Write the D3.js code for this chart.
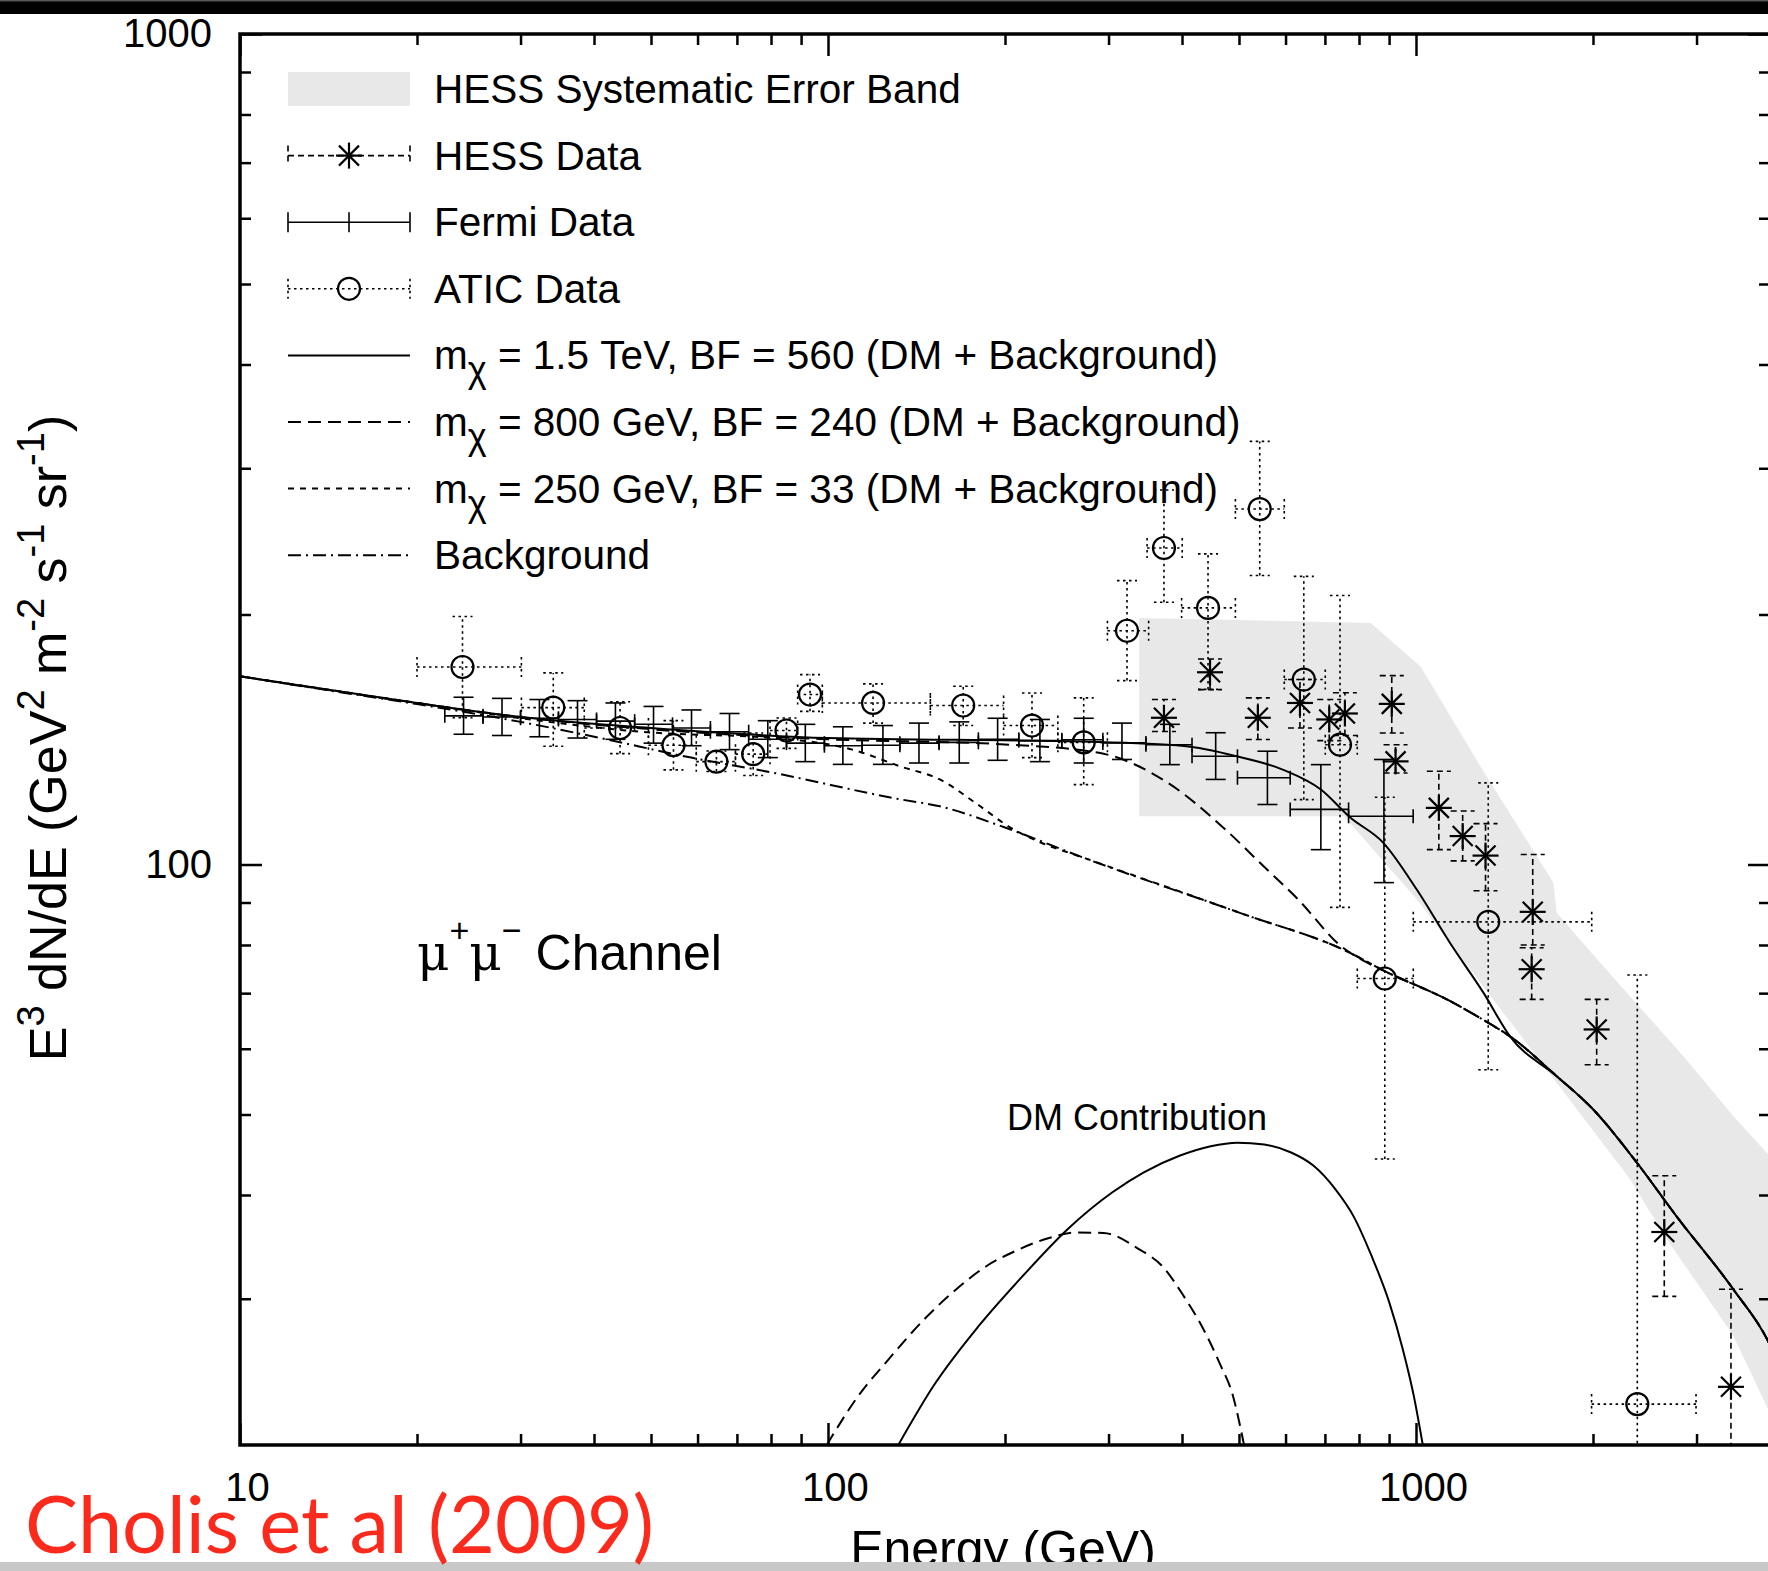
<!DOCTYPE html>
<html>
<head>
<meta charset="utf-8">
<script src="https://cdn.jsdelivr.net/npm/d3@7/dist/d3.min.js"></script>
<style>
  html, body { margin: 0; padding: 0; background: #fff; }
  svg { display: block; }
  text { font-family: "Liberation Sans", Arial, Helvetica, sans-serif; fill: #000; }
</style>
</head>
<body>
<svg id="chart" width="1768" height="1571"></svg>
<script>
// ---------- axis ticks ----------
const xMajorTicks = [10, 100, 1000];
const xMinorTicks = [20, 30, 40, 50, 60, 70, 80, 90, 200, 300, 400, 500, 600, 700, 800, 900, 2000, 3000];
const yMajorTicks = [100, 1000];
const yMinorTicks = [30, 40, 50, 60, 70, 80, 90, 200, 300, 400, 500, 600, 700, 800, 900];

// ---------- Fermi-LAT (energy, E^3 dN/dE, errors, bin edges) ----------
const fermiE  = [24.0, 27.9, 32.3, 37.5, 43.5, 50.5, 58.6, 68.0, 79.0, 91.5, 106, 124, 142.8, 167.2, 194.3, 229.3, 272.2, 316.2, 381.4, 456.4, 558.9, 689, 882];
const fermiY  = [151, 150.5, 150, 149.5, 148.8, 147.5, 146, 144.5, 141.5, 140, 139, 139.2, 140, 140.3, 141.5, 141, 141.3, 140.1, 139.4, 135, 127.2, 116.5, 114.3];
const fermiYLo = [143.5, 143, 142.5, 142, 141.5, 140, 139, 137.5, 134.5, 133, 132, 132, 132.5, 132.5, 133.5, 133, 132.5, 133.8, 131.9, 126.6, 118.1, 104.2, 95.1];
const fermiYHi = [159, 158.5, 158, 157.5, 156.5, 155, 153.5, 152, 149, 147.5, 146.5, 147, 148, 148.5, 150, 149.5, 150, 148, 147.5, 144.1, 136.9, 131.9, 133.8];
const fermiEdges = [22.3, 25.9, 30.0, 34.8, 40.4, 46.9, 54.4, 63.1, 73.3, 85.0, 98.6, 114.3, 132.5, 154.5, 180.2, 211.1, 249.8, 293.4, 347.3, 416.0, 497.0, 611.0, 768.0, 989.0];

// ---------- ATIC ----------
const aticE   = [23.9, 34.1, 44.3, 54.6, 64.6, 74.6, 85.0, 93.2, 119.3, 169.8, 222.3, 272.2, 322.5, 372.7, 442.9, 542.3, 644.5, 742.6, 885, 1327, 2379];
const aticY   = [172.9, 154.5, 146.0, 139.2, 133.0, 135.8, 145.0, 160.2, 156.5, 155.4, 147.0, 140.3, 191.2, 240.5, 203.7, 267.9, 167.0, 139.4, 72.9, 85.3, 22.4];
const aticYLo = [150.2, 138.8, 136, 130, 129.4, 128, 138, 152.9, 148, 147, 134.5, 124.8, 166.5, 206.9, 162.5, 222.8, 119.7, 88.8, 44.2, 56.6, 12];
const aticYHi = [198.9, 170.1, 157, 149, 137, 144, 150.1, 169.3, 165, 163.9, 160.9, 158.7, 219.7, 282.5, 236.6, 323.2, 222.3, 210.8, 120.5, 125.4, 73.6];
const aticELo = [20.0, 30.1, 38.5, 49.5, 59.7, 69.6, 79.7, 88.8, 97.8, 149.3, 198.9, 246, 298.7, 348.9, 399.4, 493, 597, 701, 794.6, 989.5, 1989];
const aticEHi = [30.1, 38.5, 49.5, 59.7, 69.6, 79.7, 88.8, 97.8, 149.3, 198.9, 246, 298.7, 351, 400.3, 493, 597, 701, 794.6, 989.5, 1990, 2994];

// ---------- HESS ----------
const hessE   = [372.7, 446.4, 538.3, 634.8, 712, 757, 909.5, 923.1, 1093.6, 1200.6, 1313, 1579.5, 1573, 2029, 2644, 3433];
const hessY   = [150.2, 170.4, 150.2, 156.5, 149.5, 152, 156.1, 133.1, 117, 108.2, 102.5, 87.7, 74.8, 63.3, 36.1, 23.5];
const hessYLo = [144.6, 162.4, 141.4, 146, 141, 143, 144, 128.9, 104.2, 101, 93, 80, 68.8, 57.4, 30.2, 15];
const hessYHi = [158, 176.8, 158.7, 167, 158, 161, 168.8, 139.4, 129.5, 116, 112, 102.8, 79.4, 68.8, 42.2, 30.8];

// ---------- HESS systematic band outline ----------
const bandUpper = [[338.2, 198.1], [837.5, 195.4], [1018, 173.2], [1302, 129.5], [1712, 95.1], [1735, 87.5], [2082, 75.4], [2848, 58.8], [3464, 49.8], [4498, 40.6]];
const bandLower = [[4498, 18.2], [3968, 22.1], [3464, 27.1], [2669, 35.4], [2311, 41.8], [1735, 54.6], [1326, 70.1], [1003, 90.8], [754.4, 114.3], [338.2, 114.3]];

// ---------- model curves (energy, E^3 dN/dE) ----------
const background = [[10, 168.5], [15, 161], [20, 156], [30, 148.5], [41, 142], [58.5, 134.5], [81, 128.9], [131, 120], [155, 117.5], [200, 110.8], [271, 102], [503, 87.4], [772, 78.3], [885, 74.4], [1142, 68.5], [1326, 64.5], [1445, 62.1], [1735, 55.6], [2002, 50.7], [2372, 43.8], [2774, 37.7], [3464, 30.8], [3968, 26.7], [4000, 26.4]];
const model250 = [[10, 168.5], [20, 156.5], [30, 150], [48, 144.5], [86, 141.5], [110, 137.5], [133, 131.2], [155, 126.6], [180, 118], [205, 110.6], [230, 106.3], [271, 102], [503, 87.4], [772, 78.3], [885, 74.4], [1142, 68.5], [1326, 64.5], [1445, 62.1], [1735, 55.6], [2002, 50.7], [2372, 43.8], [2774, 37.7], [3464, 30.8], [3968, 26.7], [4000, 26.4]];
const model800 = [[10, 168.5], [20, 156.5], [30, 150.5], [50, 145.5], [100, 141.5], [200, 139.5], [289, 136.3], [378.5, 125.4], [474, 110.2], [550.6, 99.5], [630, 90.8], [747.6, 79.6], [817, 76.5], [885, 74.4], [1142, 68.5], [1326, 64.5], [1445, 62.1], [1735, 55.6], [2002, 50.7], [2372, 43.8], [2774, 37.7], [3464, 30.8], [3968, 26.7], [4000, 26.4]];
const model1500 = [[10, 168.5], [20, 156.5], [30, 150.5], [50, 146], [100, 142], [271, 140.6], [403, 138.9], [495.7, 135], [593.3, 130.1], [689, 123.1], [772, 114], [880, 106.2], [1003, 93.3], [1142, 80.5], [1302, 70.1], [1445, 62.1], [1735, 55.6], [2002, 50.7], [2372, 43.8], [2774, 37.7], [3464, 30.8], [3968, 26.7], [4000, 26.4]];
const dm1500 = [[131.7, 20], [151.4, 23.6], [180.3, 27.8], [214.8, 32], [255.8, 36.4], [304.6, 40.3], [344.4, 42.6], [396.1, 44.6], [447.6, 45.8], [497, 46.25], [552, 46.0], [613.2, 45.0], [669, 43.4], [730.1, 40.6], [783.2, 37.7], [840, 33.8], [900.6, 29.7], [949.3, 26.1], [991.6, 22.9], [1027, 20]];
const dm800 = [[99.5, 20], [112.5, 22.9], [127, 25.4], [146.2, 28.4], [165.3, 30.8], [186.7, 32.9], [207.4, 34.2], [234.4, 35.4], [265, 36.05], [294.2, 36.0], [338.3, 34.4], [369.3, 32.9], [403, 30.2], [432.3, 27.8], [463.4, 25.1], [488.5, 22.9], [510, 20]];

// ---------- legend ----------
const legendLabels = ["HESS Systematic Error Band", "HESS Data", "Fermi Data", "ATIC Data",
  ["m", "χ", " = 1.5 TeV, BF = 560 (DM + Background)"],
  ["m", "χ", " = 800 GeV, BF = 240 (DM + Background)"],
  ["m", "χ", " = 250 GeV, BF = 33 (DM + Background)"],
  "Background"];

// ---------- layout ----------
const W = 1768, H = 1571;
const plot = { left: 240, right: 1770, top: 34, bottom: 1445 };

const svg = d3.select("#chart");

const x = d3.scaleLog().domain([10, 4000]).range([plot.left, plot.right]);
const y = d3.scaleLog().domain([20, 1000]).range([plot.bottom, plot.top]);

svg.append("rect").attr("width", W).attr("height", H).attr("fill", "#fff");

svg.append("defs").append("clipPath").attr("id", "plotClip")
  .append("rect").attr("x", plot.left).attr("y", plot.top)
  .attr("width", plot.right - plot.left).attr("height", plot.bottom - plot.top);

const g = svg.append("g").attr("clip-path", "url(#plotClip)");

// systematic band
const bandPts = bandUpper.concat(bandLower);
g.append("path")
  .attr("d", d3.line().x(d => x(d[0])).y(d => y(d[1]))(bandPts) + "Z")
  .attr("fill", "#e8e8e8").attr("stroke", "none");

// model curves
const curveLine = d3.line().x(d => x(d[0])).y(d => y(d[1])).curve(d3.curveMonotoneX);
const styles = {
  solid:   { dash: null },
  long:    { dash: "13,7" },
  short:   { dash: "6,6" },
  dashdot: { dash: "13,5,2,5" }
};
function drawCurve(data, style) {
  g.append("path").attr("d", curveLine(data))
    .attr("fill", "none").attr("stroke", "#000").attr("stroke-width", 2)
    .attr("stroke-dasharray", styles[style].dash);
}
drawCurve(background, "dashdot");
drawCurve(model250, "short");
drawCurve(model800, "long");
drawCurve(model1500, "solid");
drawCurve(dm800, "long");
drawCurve(dm1500, "solid");

// helpers for marks
function seg(parent, x1, y1, x2, y2, dash, w) {
  parent.append("line").attr("x1", x1).attr("y1", y1).attr("x2", x2).attr("y2", y2)
    .attr("stroke", "#000").attr("stroke-width", w || 1.6)
    .attr("stroke-dasharray", dash || null);
}
function star(parent, cx, cy) {
  const a = 13, b = 10;
  seg(parent, cx - a, cy, cx + a, cy, null, 2.2);
  seg(parent, cx, cy - a, cx, cy + a, null, 2.2);
  seg(parent, cx - b, cy - b, cx + b, cy + b, null, 2.2);
  seg(parent, cx - b, cy + b, cx + b, cy - b, null, 2.2);
}
function circle(parent, cx, cy) {
  parent.append("circle").attr("cx", cx).attr("cy", cy).attr("r", 11)
    .attr("fill", "none").attr("stroke", "#000").attr("stroke-width", 2.2);
}

// ATIC (dotted error bars, open circles)
const aticDash = "2.5,3.5";
aticE.forEach((e, i) => {
  const cx = x(e), cy = y(aticY[i]);
  const x0 = x(aticELo[i]), x1 = x(aticEHi[i]);
  const y0 = y(aticYLo[i]), y1 = y(aticYHi[i]);
  seg(g, x0, cy, x1, cy, aticDash);
  seg(g, x0, cy - 10, x0, cy + 10, aticDash);
  seg(g, x1, cy - 10, x1, cy + 10, aticDash);
  seg(g, cx, y0, cx, y1, aticDash);
  seg(g, cx - 10, y0, cx + 10, y0, aticDash);
  seg(g, cx - 10, y1, cx + 10, y1, aticDash);
  circle(g, cx, cy);
});

// HESS (dashed error bars, asterisks)
const hessDash = "6,4";
hessE.forEach((e, i) => {
  const cx = x(e), cy = y(hessY[i]);
  const y0 = y(hessYLo[i]), y1 = y(hessYHi[i]);
  seg(g, cx, y0, cx, y1, hessDash);
  seg(g, cx - 12, y0, cx + 12, y0, hessDash);
  seg(g, cx - 12, y1, cx + 12, y1, hessDash);
  star(g, cx, cy);
});

// Fermi (solid error bars in x and y)
fermiE.forEach((e, i) => {
  const cx = x(e), cy = y(fermiY[i]);
  const x0 = x(fermiEdges[i]), x1 = x(fermiEdges[i + 1]);
  const y0 = y(fermiYLo[i]), y1 = y(fermiYHi[i]);
  seg(g, x0, cy, x1, cy);
  seg(g, x0, cy - 7, x0, cy + 7);
  seg(g, x1, cy - 7, x1, cy + 7);
  seg(g, cx, y0, cx, y1);
  seg(g, cx - 10, y0, cx + 10, y0);
  seg(g, cx - 10, y1, cx + 10, y1);
});

// ---------- axes ----------
const axes = svg.append("g");
function styleAxis(sel) {
  sel.select(".domain").remove();
  sel.selectAll(".tick line").attr("stroke", "#000").attr("stroke-width", 2.5);
  sel.selectAll("text").style("font-size", "40px").attr("fill", "#000")
    .style("font-family", '"Liberation Sans", Arial, sans-serif');
}
// bottom
axes.append("g").attr("transform", `translate(0,${plot.bottom})`)
  .call(d3.axisBottom(x).tickValues(xMajorTicks).tickSizeInner(-22).tickSizeOuter(0).tickPadding(28).tickFormat(d3.format("d")))
  .call(styleAxis)
  .call(s => s.selectAll("text").attr("dx", 7));
axes.append("g").attr("transform", `translate(0,${plot.bottom})`)
  .call(d3.axisBottom(x).tickValues(xMinorTicks).tickSizeInner(-11).tickSizeOuter(0).tickFormat(""))
  .call(styleAxis);
// top (mirror)
axes.append("g").attr("transform", `translate(0,${plot.top})`)
  .call(d3.axisTop(x).tickValues(xMajorTicks).tickSizeInner(-22).tickSizeOuter(0).tickFormat(""))
  .call(styleAxis);
axes.append("g").attr("transform", `translate(0,${plot.top})`)
  .call(d3.axisTop(x).tickValues(xMinorTicks).tickSizeInner(-11).tickSizeOuter(0).tickFormat(""))
  .call(styleAxis);
// left
axes.append("g").attr("transform", `translate(${plot.left},0)`)
  .call(d3.axisLeft(y).tickValues(yMajorTicks).tickSizeInner(-22).tickSizeOuter(0).tickPadding(28).tickFormat(d3.format("d")))
  .call(styleAxis);
axes.append("g").attr("transform", `translate(${plot.left},0)`)
  .call(d3.axisLeft(y).tickValues(yMinorTicks).tickSizeInner(-11).tickSizeOuter(0).tickFormat(""))
  .call(styleAxis);
// right (mirror)
axes.append("g").attr("transform", `translate(${plot.right},0)`)
  .call(d3.axisRight(y).tickValues(yMajorTicks).tickSizeInner(-22).tickSizeOuter(0).tickFormat(""))
  .call(styleAxis);
axes.append("g").attr("transform", `translate(${plot.right},0)`)
  .call(d3.axisRight(y).tickValues(yMinorTicks).tickSizeInner(-11).tickSizeOuter(0).tickFormat(""))
  .call(styleAxis);
// frame
axes.append("rect").attr("x", plot.left).attr("y", plot.top)
  .attr("width", plot.right - plot.left).attr("height", plot.bottom - plot.top)
  .attr("fill", "none").attr("stroke", "#000").attr("stroke-width", 3.5);

// ---------- legend ----------
const leg = svg.append("g");
const lx0 = 288, lx1 = 410, lxm = 349, ltx = 434, ly0 = 89, ldy = 66.6;
legendLabels.forEach((lab, i) => {
  const cy = ly0 + i * ldy;
  if (i === 0) {
    leg.append("rect").attr("x", lx0).attr("y", cy - 17).attr("width", lx1 - lx0).attr("height", 34).attr("fill", "#e8e8e8");
  } else if (i === 1) {
    seg(leg, lx0, cy, lx1, cy, hessDash);
    seg(leg, lx0, cy - 10, lx0, cy + 10, hessDash);
    seg(leg, lx1, cy - 10, lx1, cy + 10, hessDash);
    star(leg, lxm, cy);
  } else if (i === 2) {
    seg(leg, lx0, cy, lx1, cy);
    seg(leg, lx0, cy - 10, lx0, cy + 10);
    seg(leg, lx1, cy - 10, lx1, cy + 10);
    seg(leg, lxm, cy - 10, lxm, cy + 10);
  } else if (i === 3) {
    seg(leg, lx0, cy, lx1, cy, aticDash);
    seg(leg, lx0, cy - 10, lx0, cy + 10, aticDash);
    seg(leg, lx1, cy - 10, lx1, cy + 10, aticDash);
    circle(leg, lxm, cy);
  } else {
    const st = ["solid", "long", "short", "dashdot"][i - 4];
    seg(leg, lx0, cy, lx1, cy, styles[st].dash, 2);
  }
  const t = leg.append("text").attr("x", ltx).attr("y", cy + 14).style("font-size", "40.5px");
  if (Array.isArray(lab)) {
    t.append("tspan").text(lab[0]);
    t.append("tspan").attr("dy", 13).style("font-size", "36px").text(lab[1]);
    t.append("tspan").attr("dy", -13).text(lab[2]);
  } else {
    t.text(lab);
  }
});

// ---------- annotations ----------
const ch = svg.append("text").attr("x", 417).attr("y", 970).style("font-size", "50px");
ch.append("tspan").style("font-family", '"DejaVu Serif", "Liberation Serif", serif').text("μ");
ch.append("tspan").attr("dy", -28).style("font-size", "34px").text("+");
ch.append("tspan").attr("dy", 28).style("font-family", '"DejaVu Serif", "Liberation Serif", serif').text("μ");
ch.append("tspan").attr("dy", -28).style("font-size", "34px").text("−");
ch.append("tspan").attr("dy", 28).text(" Channel");

svg.append("text").attr("x", 1137).attr("y", 1130).attr("text-anchor", "middle")
  .style("font-size", "36px").text("DM Contribution");

// axis titles
const yl = svg.append("text")
  .attr("transform", "translate(66,738) rotate(-90)")
  .attr("text-anchor", "middle").style("font-size", "52px");
yl.append("tspan").text("E");
yl.append("tspan").attr("dy", -22).style("font-size", "38px").text("3");
yl.append("tspan").attr("dy", 22).text(" dN/dE (GeV");
yl.append("tspan").attr("dy", -22).style("font-size", "38px").text("2");
yl.append("tspan").attr("dy", 22).text(" m");
yl.append("tspan").attr("dy", -22).style("font-size", "38px").text("-2");
yl.append("tspan").attr("dy", 22).text(" s");
yl.append("tspan").attr("dy", -22).style("font-size", "38px").text("-1");
yl.append("tspan").attr("dy", 22).text(" sr");
yl.append("tspan").attr("dy", -22).style("font-size", "38px").text("-1");
yl.append("tspan").attr("dy", 22).text(")");

svg.append("text").attr("x", 1003).attr("y", 1566).attr("text-anchor", "middle")
  .style("font-size", "50px").text("Energy (GeV)");

// frame strips of the slide
svg.append("rect").attr("x", 0).attr("y", 0).attr("width", W).attr("height", 14).attr("fill", "#000");
svg.append("rect").attr("x", 0).attr("y", 0).attr("width", W).attr("height", 1.5).attr("fill", "#555");
svg.append("rect").attr("x", 0).attr("y", 1562).attr("width", W).attr("height", 9).attr("fill", "#c8c8c8");

svg.append("text").attr("x", 25).attr("y", 1553)
  .attr("textLength", 629).attr("lengthAdjust", "spacingAndGlyphs")
  .style("font-family", '"Lato", "Open Sans", sans-serif').style("font-size", "80px")
  .style("fill", "#fb2a1c").text("Cholis et al (2009)");
</script>
</body>
</html>
